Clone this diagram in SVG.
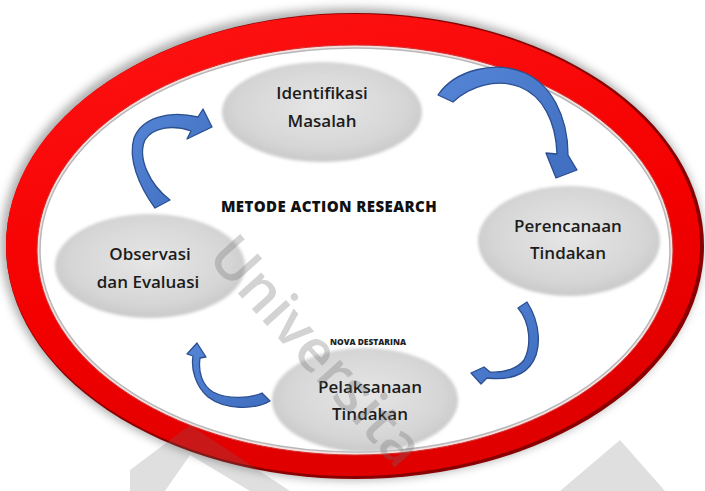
<svg xmlns="http://www.w3.org/2000/svg" width="705" height="491" viewBox="0 0 705 491">
  <defs>
    <radialGradient id="nodeGrad" cx="50%" cy="45%" r="55%">
      <stop offset="0" stop-color="#e6e6e6"/>
      <stop offset="0.75" stop-color="#d6d6d6"/>
      <stop offset="1" stop-color="#c9c9c9"/>
    </radialGradient>
    <linearGradient id="redGrad" x1="0" y1="0" x2="0.3" y2="1">
      <stop offset="0" stop-color="#ff1414"/>
      <stop offset="0.6" stop-color="#f40000"/>
      <stop offset="1" stop-color="#e00000"/>
    </linearGradient>
    <linearGradient id="arrowGrad" x1="0" y1="0" x2="1" y2="1">
      <stop offset="0" stop-color="#5585d6"/>
      <stop offset="1" stop-color="#3f6dbf"/>
    </linearGradient>
    <filter id="soft" x="-10%" y="-10%" width="120%" height="120%">
      <feGaussianBlur stdDeviation="1.6"/>
    </filter>
    <filter id="shadow" x="-10%" y="-10%" width="120%" height="120%">
      <feGaussianBlur stdDeviation="5"/>
    </filter>
    <style>
      .node { fill: url(#nodeGrad); filter: url(#soft); }
      .lbl { font-family: "Open Sans", "Liberation Sans", sans-serif; font-weight: 600; font-size: 17px; fill: #1c1c1c; text-anchor: middle; }
      .arrow { fill: url(#arrowGrad); stroke: #2b4f8f; stroke-width: 1.3; stroke-linejoin: round; }
      .wm { font-family: "Open Sans", "Liberation Sans", sans-serif; font-weight: 600; font-size: 58px; fill: #6f6f6f; opacity: 0.3; }
    </style>
  </defs>

  <rect width="705" height="491" fill="#ffffff"/>

  <g id="ring">
    <ellipse cx="352" cy="244" rx="351" ry="236" fill="#6b6b6b" opacity="0.55" filter="url(#shadow)"/>
    <ellipse cx="355" cy="246" rx="349" ry="233" fill="#8a0000"/>
    <ellipse cx="353" cy="245" rx="347" ry="231" fill="url(#redGrad)"/>
    <ellipse cx="355" cy="250" rx="318" ry="205" fill="#f6e0e0" stroke="#d23030" stroke-width="1"/>
    <ellipse cx="355" cy="250" rx="315" ry="202" fill="#ffffff" stroke="#b8b8b8" stroke-width="1.5"/>
  </g>

  <g id="node-identifikasi">
    <ellipse class="node" cx="322" cy="112" rx="100" ry="50"/>
    <text class="lbl" x="322" y="99">Identifikasi</text>
    <text class="lbl" x="322" y="127">Masalah</text>
  </g>

  <g id="node-perencanaan">
    <ellipse class="node" cx="569" cy="241" rx="91" ry="55"/>
    <text class="lbl" x="568" y="232">Perencanaan</text>
    <text class="lbl" x="568" y="259">Tindakan</text>
  </g>

  <g id="node-pelaksanaan">
    <ellipse class="node" cx="365" cy="400" rx="93" ry="52"/>
    <text class="lbl" x="370" y="393">Pelaksanaan</text>
    <text class="lbl" x="370" y="420">Tindakan</text>
  </g>

  <g id="node-observasi">
    <ellipse class="node" cx="150" cy="266" rx="95" ry="52"/>
    <text class="lbl" x="150" y="260">Observasi</text>
    <text class="lbl" x="148" y="288">dan Evaluasi</text>
  </g>

  <g id="title">
    <text x="329" y="212" font-family="'Open Sans', 'Liberation Sans', sans-serif" font-weight="800" font-size="15" letter-spacing="0.4" fill="#111" text-anchor="middle">METODE ACTION RESEARCH</text>
    <text x="368" y="345" font-family="'Open Sans', 'Liberation Sans', sans-serif" font-weight="800" font-size="8.4" fill="#222" text-anchor="middle">NOVA DESTARINA</text>
  </g>

  <g id="connectors">
    <path class="arrow" d="M438,95 C455,70 495,60 525,73 C550,84 568,115 568,155 L577,170 L556,178 L546,153 L557,154 C556,122 543,96 520,87 C497,78 470,86 453,102 Z"/>
    <path class="arrow" d="M527,302 C540,322 543,350 530,366 C520,378 505,380 487,378 L481,384 L471,373 L484,367 L490,372 C505,373 518,368 524,360 C532,345 530,322 518,308 Z"/>
    <path class="arrow" d="M270,401 C255,410 225,410 208,397 C195,386 191,368 193,356 L187,354 L197,343 L206,357 L200,358 C198,372 202,385 213,392 C228,400 250,398 262,393 Z"/>
    <path class="arrow" d="M155,208 C138,185 128,158 134,138 C142,118 168,110 198,117 L203,109 L212,127 L187,139 L191,131 C172,124 152,128 145,140 C137,158 150,185 170,200 Z"/>
  </g>

  <g id="watermark">
    <text class="wm" transform="translate(206,258) rotate(48)">Universita</text>
    <polygon points="130,470 190,425 290,491 250,491 190,455 165,491 130,491" fill="#6f6f6f" opacity="0.22"/>
    <polygon points="560,491 620,440 665,491" fill="#6f6f6f" opacity="0.22"/>
  </g>
</svg>
